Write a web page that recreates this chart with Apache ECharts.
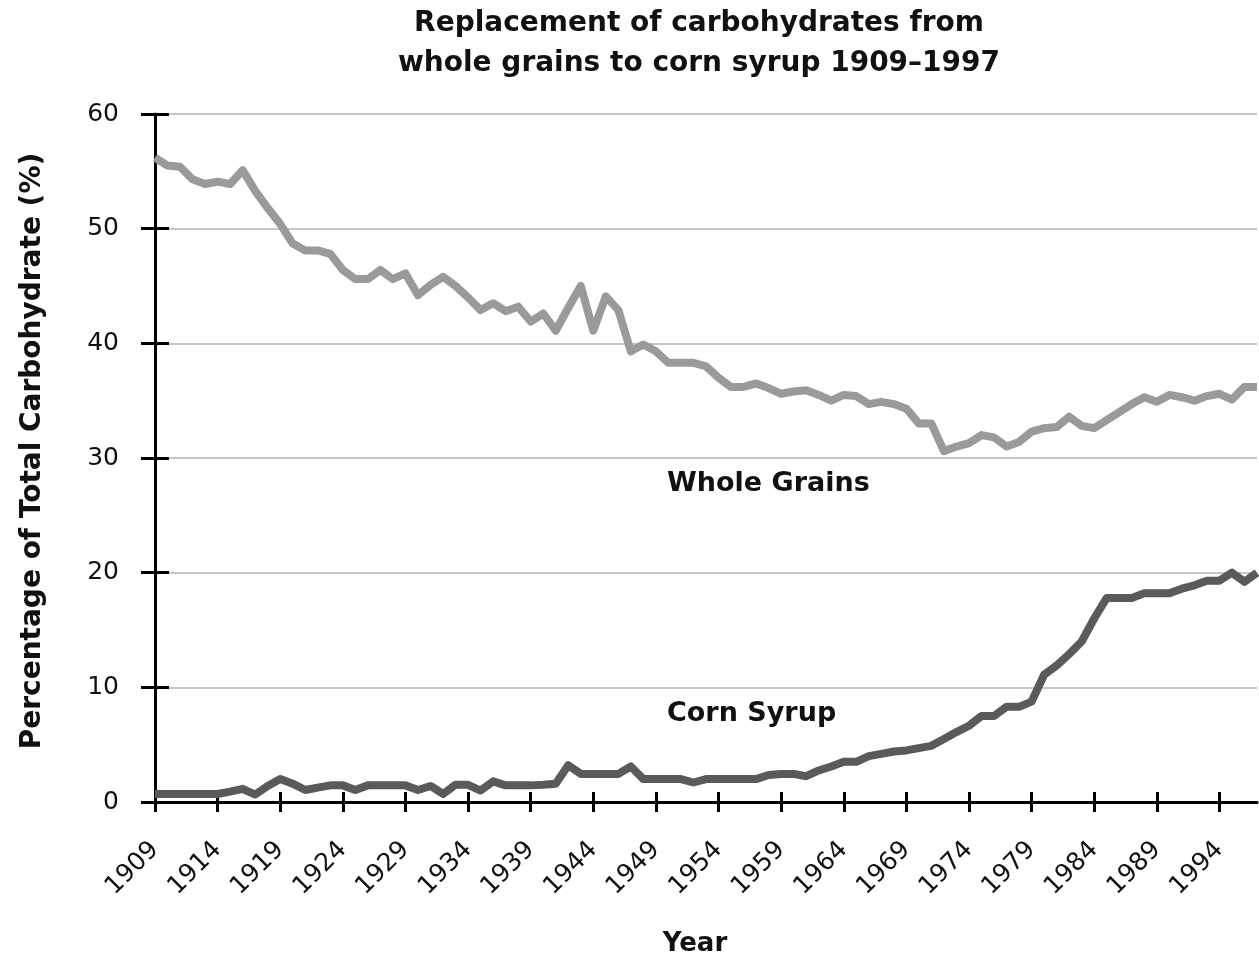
<!DOCTYPE html>
<html>
<head>
<meta charset="utf-8">
<script src="https://cdn.jsdelivr.net/npm/echarts@6/dist/echarts.min.js"></script>
<style>
  html, body { margin: 0; padding: 0; background: #fff; }
  #chart { width: 1259px; height: 962px; }
</style>
</head>
<body>
<div id="chart"></div>
<script>
// years on the x axis, one point per year
const firstYear = 1909;
const lastYear = 1997;
const years = [];
for (let y = firstYear; y <= lastYear; y++) years.push(String(y));

// share of total carbohydrate (%)
const wholeGrains = [
  56.2, 55.5, 55.4, 54.3, 53.9, 54.1, 53.9, 55.1, 53.3, 51.8,   // 1909-1918
  50.4, 48.7, 48.1, 48.1, 47.8, 46.4, 45.6, 45.6, 46.4, 45.6,   // 1919-1928
  46.1, 44.2, 45.1, 45.8, 45.0, 44.0, 42.9, 43.5, 42.8, 43.2,   // 1929-1938
  41.9, 42.6, 41.1, 43.1, 45.0, 41.1, 44.1, 42.9, 39.3, 39.9,   // 1939-1948
  39.3, 38.3, 38.3, 38.3, 38.0, 37.0, 36.2, 36.2, 36.5, 36.1,   // 1949-1958
  35.6, 35.8, 35.9, 35.5, 35.0, 35.5, 35.4, 34.7, 34.9, 34.7,   // 1959-1968
  34.3, 33.0, 33.0, 30.6, 31.0, 31.3, 32.0, 31.8, 31.0, 31.4,   // 1969-1978
  32.3, 32.6, 32.7, 33.6, 32.8, 32.6, 33.3, 34.0, 34.7, 35.3,   // 1979-1988
  34.9, 35.5, 35.3, 35.0, 35.4, 35.6, 35.1, 36.2, 36.2          // 1989-1997
];
const cornSyrup = [
  0.7, 0.7, 0.7, 0.7, 0.7, 0.7, 0.9, 1.15, 0.65, 1.4,           // 1909-1918
  2.0, 1.6, 1.05, 1.25, 1.45, 1.45, 1.05, 1.45, 1.45, 1.45,     // 1919-1928
  1.45, 1.05, 1.4, 0.7, 1.5, 1.5, 1.0, 1.8, 1.45, 1.45,         // 1929-1938
  1.45, 1.5, 1.6, 3.2, 2.45, 2.45, 2.45, 2.45, 3.1, 2.0,        // 1939-1948
  2.0, 2.0, 2.0, 1.7, 2.0, 2.0, 2.0, 2.0, 2.0, 2.35,            // 1949-1958
  2.45, 2.45, 2.25, 2.75, 3.1, 3.5, 3.5, 4.0, 4.2, 4.4,         // 1959-1968
  4.5, 4.7, 4.9, 5.5, 6.1, 6.65, 7.5, 7.5, 8.3, 8.3,            // 1969-1978
  8.75, 11.1, 11.9, 12.9, 14.0, 16.0, 17.8, 17.8, 17.8, 18.2,   // 1979-1988
  18.2, 18.2, 18.6, 18.9, 19.3, 19.3, 20.0, 19.2, 20.0          // 1989-1997
];

const yMin = 0, yMax = 60, yStep = 10;
const labelFont = 'DejaVu Sans';
const headFont = 'DejaVu Sans';

let chart = echarts.init(document.getElementById('chart'));
chart.setOption({
  animation: false,
  backgroundColor: '#fff',
  title: {
    text: 'Replacement of carbohydrates from\nwhole grains to corn syrup 1909\u20131997',
    left: 694,
    top: -1,
    textAlign: 'center',
    textStyle: {
      fontFamily: headFont,
      fontSize: 28,
      fontWeight: 'bold',
      color: '#111',
      lineHeight: 40
    }
  },
  grid: { left: 155, right: 2, top: 114, bottom: 156 },
  xAxis: [
    {
      type: 'category',
      data: years,
      boundaryGap: false,
      name: 'Year',
      nameLocation: 'middle',
      nameGap: 129,
      nameTextStyle: {
        fontFamily: headFont, fontSize: 26, fontWeight: 'bold', color: '#111',
        padding: [0, 22, 0, 0]
      },
      axisLine: { lineStyle: { color: '#000', width: 3 } },
      axisTick: { interval: 4, length: 10, lineStyle: { color: '#000', width: 3 } },
      axisLabel: {
        interval: 4, rotate: 45, margin: 44,
        fontFamily: labelFont, fontSize: 25, color: '#111'
      },
      splitLine: { show: false }
    },
    {
      type: 'category',
      data: years,
      boundaryGap: false,
      position: 'bottom',
      axisLine: { show: false },
      axisTick: { inside: true, interval: 4, length: 10, lineStyle: { color: '#000', width: 3 } },
      axisLabel: { show: false },
      splitLine: { show: false }
    }
  ],
  yAxis: [
    {
      type: 'value',
      min: yMin, max: yMax, interval: yStep,
      name: 'Percentage of Total Carbohydrate (%)',
      nameLocation: 'middle',
      nameGap: 108,
      nameTextStyle: {
        fontFamily: headFont, fontSize: 28, fontWeight: 'bold', color: '#111',
        padding: [0, 0, 0, 14]
      },
      axisLine: { show: true, lineStyle: { color: '#000', width: 3 } },
      axisTick: { show: true, length: 14, lineStyle: { color: '#000', width: 3 } },
      axisLabel: { margin: 36, fontFamily: labelFont, fontSize: 25, color: '#111' },
      splitLine: { lineStyle: { color: '#c6c6c6', width: 2 } }
    },
    {
      type: 'value',
      min: yMin, max: yMax, interval: yStep,
      position: 'left',
      axisLine: { show: false },
      axisTick: { show: true, inside: true, length: 14, lineStyle: { color: '#000', width: 3 } },
      axisLabel: { show: false },
      splitLine: { show: false }
    }
  ],
  series: [
    {
      name: 'Whole Grains',
      type: 'line',
      data: wholeGrains,
      showSymbol: false,
      z: 3,
      lineStyle: { color: '#9a9a9a', width: 8, join: 'round' }
    },
    {
      name: 'Corn Syrup',
      type: 'line',
      data: cornSyrup,
      showSymbol: false,
      z: 3,
      lineStyle: { color: '#5a5a5a', width: 8, join: 'round' }
    }
  ],
  graphic: [
    {
      type: 'text', left: 667, top: 470,
      style: { text: 'Whole Grains', font: 'bold 27px "DejaVu Sans"', fill: '#111' }
    },
    {
      type: 'text', left: 667, top: 700,
      style: { text: 'Corn Syrup', font: 'bold 27px "DejaVu Sans"', fill: '#111' }
    }
  ]
});
</script>
</body>
</html>
